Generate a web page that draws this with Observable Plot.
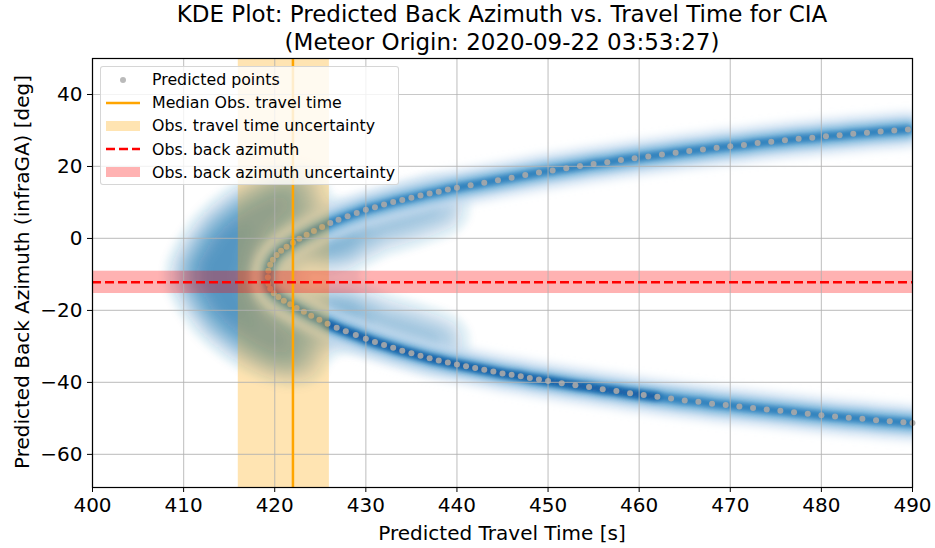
<!DOCTYPE html>
<html>
<head>
<meta charset="utf-8">
<script src="https://cdn.jsdelivr.net/npm/d3@7"></script>
<script src="https://cdn.jsdelivr.net/npm/@observablehq/plot@0.6"></script>
<style>
  body { margin: 0; background: #fff; font-family: "DejaVu Sans", sans-serif; }
  #chart { position: relative; width: 935px; height: 548px; overflow: hidden; }
  #chart > svg { position: absolute; left: 0; top: 0; }
  .title { position: absolute; left: 92px; width: 820px; top: 0; text-align: center;
           font-size: 23px; line-height: 28px; color: #000; }
  .xlabel { position: absolute; left: 92px; width: 820px; top: 521px; text-align: center;
            font-size: 20px; line-height: 24px; color: #000; }
  .ylabel { position: absolute; left: -193px; top: 260px; width: 430px; height: 24px;
            text-align: center; font-size: 20px; line-height: 24px; color: #000;
            transform: rotate(-90deg); transform-origin: 50% 50%; }
  .legend { position: absolute; left: 100px; top: 66px; width: 299px; height: 119px;
            background: rgba(255,255,255,0.8); border: 1px solid rgba(204,204,204,0.8);
            border-radius: 3px; box-sizing: border-box; padding-top: 1px; }
  .legend .row { display: flex; align-items: center; height: 23.2px; }
  .legend .row svg { margin-left: 4px; flex: none; }
  .legend span { margin-left: 11px; font-size: 15.8px; color: #000; white-space: nowrap; }
</style>
</head>
<body>
<div id="chart"></div>
<script>
// Predicted arrivals at CIA: upper branch of the back-azimuth / travel-time curve
const upperTime = [419.25, 419.3, 419.5, 419.8, 420.2, 420.7, 421.3, 422.0, 422.7, 423.5,
  424.3, 425.2, 426.1, 427.0, 428.0, 429.0, 430.0, 431.0, 432.0, 433.0,
  434.0, 435.0, 436.0, 437.0, 438.0, 439.0, 440.0,
  441.5, 443.0, 444.5, 446.0, 447.5, 449.0, 450.5, 452.0, 453.5, 455.0,
  456.5, 458.0, 459.5, 461.0, 462.5, 464.0, 465.5, 467.0, 468.5, 470.0,
  471.5, 473.0, 474.5, 476.0, 477.5, 479.0, 480.5, 482.0, 483.5, 485.0,
  486.5, 488.0, 489.5];
const upperAz = [-10.8, -9.0, -7.3, -5.9, -4.6, -3.4, -2.3, -1.2, -0.1, 1.0,
  2.1, 3.2, 4.3, 5.2, 6.2, 7.1, 8.0, 8.7, 9.4, 10.1,
  10.7, 11.3, 11.9, 12.5, 13.0, 13.6, 14.1,
  14.8, 15.5, 16.2, 16.9, 17.6, 18.3, 18.9, 19.5, 20.1, 20.7,
  21.2, 21.8, 22.3, 22.8, 23.3, 23.8, 24.3, 24.7, 25.2, 25.6,
  26.0, 26.5, 26.9, 27.3, 27.7, 28.0, 28.4, 28.7, 29.1, 29.4,
  29.7, 30.0, 30.3];

// Lower branch
const lowerTime = [419.3, 419.5, 419.9, 420.4, 421.0, 421.7, 422.4, 423.2, 424.0, 424.9,
  425.8, 426.8, 427.8, 428.9, 430.0, 431.0, 432.0, 433.0, 434.0, 435.0,
  436.0, 437.0, 438.0, 439.0, 440.0, 441.0, 442.0, 443.0, 444.0, 445.0,
  446.0, 447.0, 448.0, 449.0, 450.0,
  451.5, 453.0, 454.5, 456.0, 457.5, 459.0, 460.5, 462.0, 463.5, 465.0,
  466.5, 468.0, 469.5, 471.0, 472.5, 474.0, 475.5, 477.0, 478.5, 480.0,
  481.5, 483.0, 484.5, 486.0, 487.5, 489.0, 490.0];
const lowerAz = [-12.6, -14.0, -15.2, -16.3, -17.3, -18.3, -19.3, -20.4, -21.5, -22.6,
  -23.7, -24.8, -25.8, -26.8, -27.9, -28.8, -29.6, -30.4, -31.2, -31.9,
  -32.6, -33.3, -33.9, -34.5, -35.0, -35.5, -36.0, -36.5, -37.0, -37.5,
  -37.9, -38.3, -38.8, -39.2, -39.6,
  -40.2, -40.8, -41.3, -41.9, -42.4, -43.0, -43.5, -44.0, -44.5, -45.0,
  -45.4, -45.9, -46.3, -46.7, -47.1, -47.5, -47.9, -48.3, -48.7, -49.1,
  -49.5, -49.8, -50.1, -50.5, -50.8, -51.1, -51.3];

// Scattered ray solutions around the caustic (wide, low-density part of the KDE)
const spreadTime = [411.5, 413, 413, 414.5, 414.5, 414.5, 416.5, 416.5, 416.5, 416.5,
  418.5, 418.5, 418.5, 420.5, 420.5, 420.5, 420.5, 422.5, 422.5, 424.5, 424.5,
  427, 427, 430, 430, 434, 434, 438, 438];
const spreadAz = [-10, -4, -16, 1, -10, -21, 5, -3, -17, -25,
  8, -10, -28, 10, -2, -19, -30, 12, -32, 0, -22,
  -1, -21, 3, -23, 6, -26, 9, -29];

// Observations
const medianTravelTime = 422;
const travelTimeBand = [416, 426];
const obsBackAzimuth = -12.2;
const backAzimuthBand = [-15.3, -9.1];

// Axes
const xTicks = [400, 410, 420, 430, 440, 450, 460, 470, 480, 490];
const yTicks = [-60, -40, -20, 0, 20, 40];
const xDomain = [400, 490];
const yDomain = [-69.2, 50];

const points = [
  ...upperTime.map((t, i) => ({branch: "upper", t, az: upperAz[i]})),
  ...lowerTime.map((t, i) => ({branch: "lower", t, az: lowerAz[i]}))
];
const spread = spreadTime.map((t, i) => ({t, az: spreadAz[i]}));

const W = 935, H = 548;
const M = {left: 92, right: 23, top: 58, bottom: 61};

// Soft KDE ridge: stacked, blurred strokes following each branch
const ridgeLayers = [
  {width: 34, color: "#c6dbef", opacity: 0.9, blur: 5},
  {width: 18, color: "#6baed6", opacity: 0.9, blur: 3.5},
  {width: 8, color: "#3182bd", opacity: 1, blur: 2}
];
const dense = {span: [425, 462], width: 6, color: "#08519c", blur: 3}; // densest stretch of the lower branch
const spreadStyle = {color: "#2171b5", blur: 3};

const gridStyle = {stroke: "#b0b0b0", strokeOpacity: 0.7, strokeWidth: 1.2};

const chart = Plot.plot({
  width: W,
  height: H,
  marginLeft: M.left,
  marginRight: M.right,
  marginTop: M.top,
  marginBottom: M.bottom,
  style: {fontFamily: "DejaVu Sans, sans-serif", fontSize: "20px", color: "black", background: "transparent"},
  x: {domain: xDomain, label: null},
  y: {domain: yDomain, label: null},
  marks: [
    Plot.density(spread, {x: "t", y: "az", bandwidth: 16, thresholds: 14, fill: spreadStyle.color, fillOpacity: 0.1, stroke: "none"}),
    ...ridgeLayers.map(L => Plot.line(points, {
      x: "t", y: "az", z: "branch", curve: "monotone-x",
      stroke: L.color, strokeWidth: L.width, strokeOpacity: L.opacity
    })),
    Plot.line(points, {
      filter: d => d.branch === "lower" && d.t >= dense.span[0] && d.t <= dense.span[1],
      x: "t", y: "az", curve: "monotone-x", stroke: dense.color, strokeWidth: dense.width
    }),
    Plot.dot(points, {x: "t", y: "az", r: 3, fill: "#a9a9a9", fillOpacity: 0.9, stroke: "none"}),
    Plot.rect([{lo: travelTimeBand[0], hi: travelTimeBand[1]}], {x1: "lo", x2: "hi", fill: "orange", fillOpacity: 0.3}),
    Plot.rect([{lo: backAzimuthBand[0], hi: backAzimuthBand[1]}], {y1: "lo", y2: "hi", fill: "red", fillOpacity: 0.3}),
    Plot.gridX(xTicks, gridStyle),
    Plot.gridY(yTicks, gridStyle),
    Plot.ruleX([medianTravelTime], {stroke: "orange", strokeWidth: 2.5}),
    Plot.ruleY([obsBackAzimuth], {stroke: "red", strokeWidth: 2.5, strokeDasharray: "9,4"}),
    Plot.axisX(xTicks, {tickSize: 5, tickPadding: 5, fontSize: 20, tickFormat: d => String(d)}),
    Plot.axisY(yTicks, {tickSize: 5, tickPadding: 5, fontSize: 20, tickFormat: d => d < 0 ? "\u2212" + Math.abs(d) : String(d)}),
    Plot.frame({stroke: "black", strokeWidth: 1.2})
  ]
});

// Gaussian blur filters, limited to the plotting frame so the glow is clipped there
const svg = d3.select(chart);
const defs = svg.insert("defs", ":first-child");
let filterCount = 0;
function blurFilter(sd) {
  const id = `soft-${filterCount++}`;
  defs.append("filter")
    .attr("id", id)
    .attr("filterUnits", "userSpaceOnUse")
    .attr("x", M.left).attr("y", M.top)
    .attr("width", W - M.left - M.right).attr("height", H - M.top - M.bottom)
    .append("feGaussianBlur").attr("stdDeviation", sd);
  return `url(#${id})`;
}
[...ridgeLayers, dense].forEach(L => {
  svg.selectAll(`g[aria-label="line"][stroke="${L.color}"]`).attr("filter", blurFilter(L.blur));
});
svg.selectAll(`g[aria-label="density"][fill="${spreadStyle.color}"]`).attr("filter", blurFilter(spreadStyle.blur));

const root = document.getElementById("chart");
root.appendChild(chart);

function addDiv(cls, html) {
  const el = document.createElement("div");
  el.className = cls;
  el.innerHTML = html;
  root.appendChild(el);
  return el;
}

addDiv("title", "KDE Plot: Predicted Back Azimuth vs. Travel Time for CIA<br>(Meteor Origin: 2020-09-22 03:53:27)");
addDiv("xlabel", "Predicted Travel Time [s]");
addDiv("ylabel", "Predicted Back Azimuth (infraGA) [deg]");

const legendItems = [
  {label: "Predicted points", handle: '<circle cx="18" cy="10" r="3" fill="#a9a9a9" fill-opacity="0.8"/>'},
  {label: "Median Obs. travel time", handle: '<line x1="1" x2="35" y1="10" y2="10" stroke="orange" stroke-width="2.5"/>'},
  {label: "Obs. travel time uncertainty", handle: '<rect x="1" y="5" width="34" height="10" fill="orange" fill-opacity="0.3"/>'},
  {label: "Obs. back azimuth", handle: '<line x1="1" x2="35" y1="10" y2="10" stroke="red" stroke-width="2.5" stroke-dasharray="9,4"/>'},
  {label: "Obs. back azimuth uncertainty", handle: '<rect x="1" y="5" width="34" height="10" fill="red" fill-opacity="0.3"/>'}
];
const legend = addDiv("legend", "");
for (const item of legendItems) {
  const row = document.createElement("div");
  row.className = "row";
  row.innerHTML = `<svg width="36" height="20" viewBox="0 0 36 20">${item.handle}</svg><span>${item.label}</span>`;
  legend.appendChild(row);
}
</script>
</body>
</html>
